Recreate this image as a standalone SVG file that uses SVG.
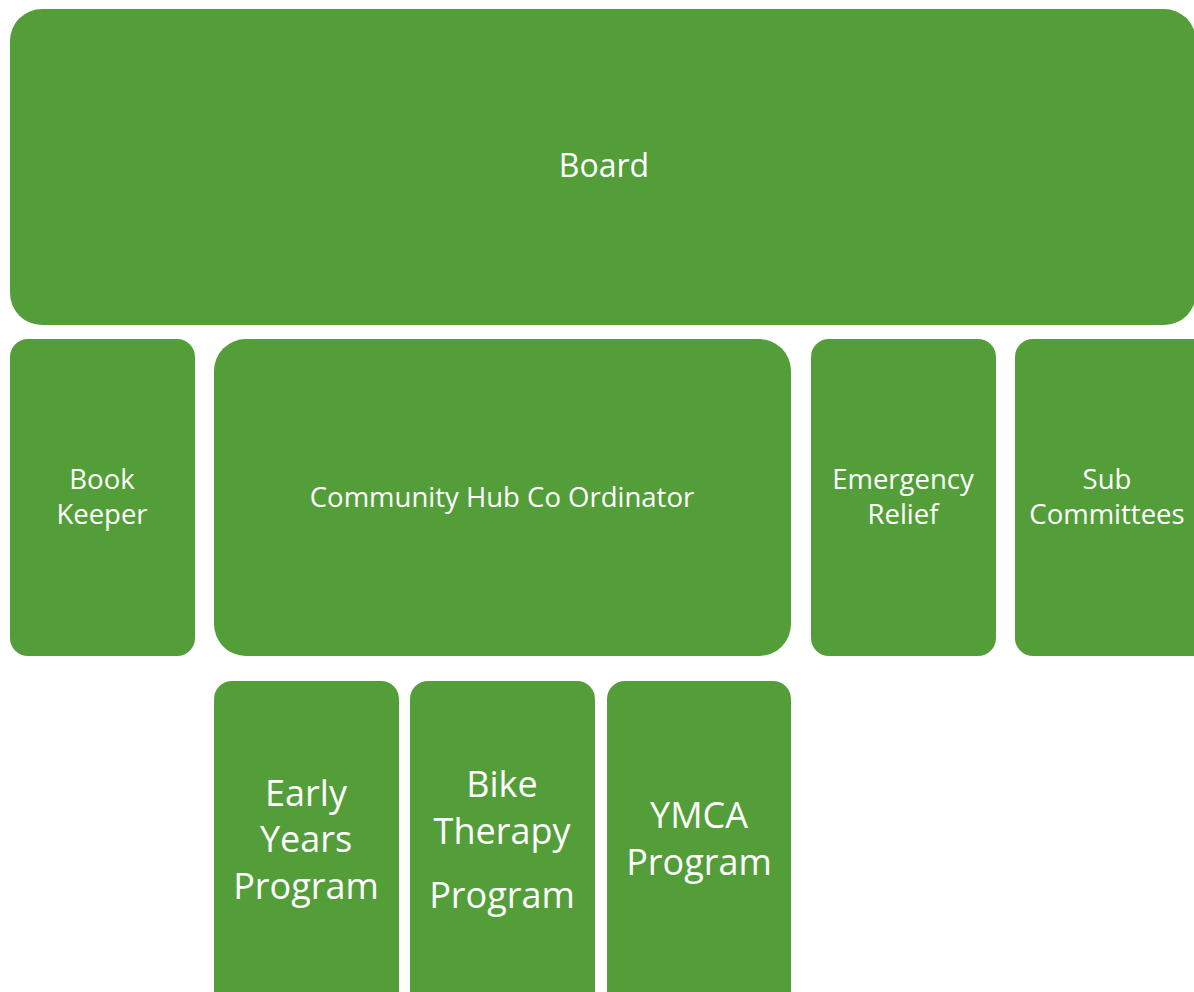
<svg xmlns="http://www.w3.org/2000/svg" width="1194" height="992" viewBox="0 0 1194 992">
  <style>
    .box { fill: #549e3a; }
    .lbl { fill: #ffffff; font-family: "Open Sans", "Noto Sans", sans-serif; text-anchor: middle; }
    .s1 { font-size: 32px; }
    .s2 { font-size: 27.5px; }
    .s3 { font-size: 36px; }
  </style>
  <rect width="1194" height="992" fill="#ffffff"/>
  <g id="connectors"></g>
  <g id="board">
    <rect class="box" x="10" y="9" width="1186" height="316" rx="32"/>
    <text class="lbl s1" x="604" y="177">Board</text>
  </g>
  <g id="book-keeper">
    <rect class="box" x="10" y="339" width="185" height="317" rx="18"/>
    <text class="lbl s2" x="102" y="489">Book</text>
    <text class="lbl s2" x="102" y="524">Keeper</text>
  </g>
  <g id="community-hub">
    <rect class="box" x="214" y="339" width="577" height="317" rx="32"/>
    <text class="lbl s2" x="502" y="507">Community Hub Co Ordinator</text>
  </g>
  <g id="emergency-relief">
    <rect class="box" x="811" y="339" width="185" height="317" rx="18"/>
    <text class="lbl s2" x="903" y="489">Emergency</text>
    <text class="lbl s2" x="903" y="524">Relief</text>
  </g>
  <g id="sub-committees">
    <rect class="box" x="1015" y="339" width="200" height="317" rx="18"/>
    <text class="lbl s2" x="1107" y="489">Sub</text>
    <text class="lbl s2" x="1107" y="524">Committees</text>
  </g>
  <g id="early-years">
    <rect class="box" x="214" y="681" width="185" height="330" rx="18"/>
    <text class="lbl s3" x="306" y="806">Early</text>
    <text class="lbl s3" x="306" y="852">Years</text>
    <text class="lbl s3" x="306" y="899">Program</text>
  </g>
  <g id="bike-therapy">
    <rect class="box" x="410" y="681" width="185" height="330" rx="18"/>
    <text class="lbl s3" x="502" y="797">Bike</text>
    <text class="lbl s3" x="502" y="844">Therapy</text>
    <text class="lbl s3" x="502" y="908">Program</text>
  </g>
  <g id="ymca">
    <rect class="box" x="607" y="681" width="184" height="330" rx="18"/>
    <text class="lbl s3" x="699" y="828">YMCA</text>
    <text class="lbl s3" x="699" y="875">Program</text>
  </g>
</svg>
